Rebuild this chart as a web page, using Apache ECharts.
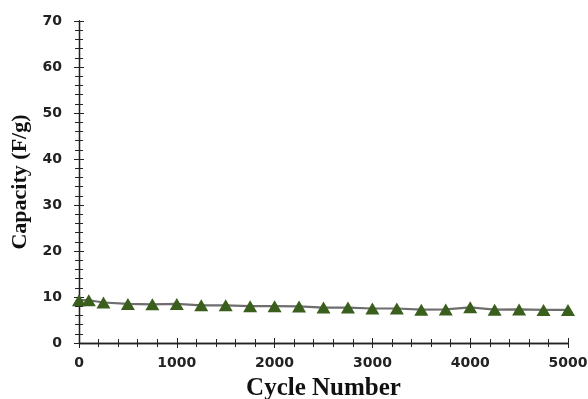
<!DOCTYPE html>
<html><head><meta charset="utf-8">
<script src="https://cdn.jsdelivr.net/npm/echarts@6/dist/echarts.min.js"></script>
<style>html,body{margin:0;padding:0;background:#fff}#c{width:588px;height:399px}</style>
</head><body><div id="c"></div>
<script>
const cycles = [0,100,250,500,750,1000,1250,1500,1750,2000,2250,2500,2750,3000,3250,3500,3750,4000,4250,4500,4750,5000];
const capacity = [9.3,9.3,8.8,8.5,8.4,8.5,8.2,8.2,8.0,8.0,7.95,7.7,7.7,7.5,7.5,7.25,7.3,7.75,7.25,7.3,7.2,7.2];
const xTicks = [0,1000,2000,3000,4000,5000];
const yTicks = [0,10,20,30,40,50,60,70];

const labelFont = {fontFamily:'DejaVu Sans', fontWeight:'bold', fontSize:14, color:'#222'};
const pts = cycles.map((c,i)=>[c,capacity[i]]);
const chart = echarts.init(document.getElementById('c'));
function xAx(inside, show){
  return {type:'value', min:xTicks[0], max:xTicks[xTicks.length-1], interval:1000, position:'bottom',
    axisLine:{show:true, onZero:false, lineStyle:{color:'#222',width:1.3}},
    axisTick:{show:true, inside:inside, length:5, lineStyle:{color:'#222',width:1}},
    minorTick:{show:true, splitNumber:5, length:4, lineStyle:{color:'#222',width:1}},
    splitLine:{show:false},
    axisLabel:{show:show, margin:13, formatter:v=>String(v), ...labelFont},
    name: show?'Cycle Number':'', nameLocation:'middle', nameGap:33,
    nameTextStyle:{fontFamily:'Liberation Serif', fontWeight:'bold', fontSize:25, color:'#111'}};
}
function yAx(inside, show){
  return {type:'value', min:yTicks[0], max:yTicks[yTicks.length-1], interval:10, position:'left',
    axisLine:{show:true, onZero:false, lineStyle:{color:'#222',width:1.3}},
    axisTick:{show:true, inside:inside, length:5, lineStyle:{color:'#222',width:1}},
    minorTick:{show:true, splitNumber:5, length:4, lineStyle:{color:'#222',width:1}},
    splitLine:{show:false},
    axisLabel:{show:show, margin:17, formatter:v=>String(v), ...labelFont},
    name: show?'Capacity (F/g)':'', nameLocation:'middle', nameGap:47, nameRotate:90,
    nameTextStyle:{fontFamily:'Liberation Serif', fontWeight:'bold', fontSize:22, color:'#111'}};
}
chart.setOption({
  animation:false,
  grid:{left:79, right:20, top:21, bottom:56, containLabel:false, outerBoundsMode:'none'},
  xAxis:[xAx(false,true), xAx(true,false)],
  yAxis:[yAx(false,true), yAx(true,false)],
  series:[{type:'line', data:pts, xAxisIndex:0, yAxisIndex:0,
    symbol:'triangle', symbolSize:[14,12],
    itemStyle:{color:'#3a5e1c'},
    lineStyle:{color:'#6e6e6e', width:2.2}}]
});
</script></body></html>
